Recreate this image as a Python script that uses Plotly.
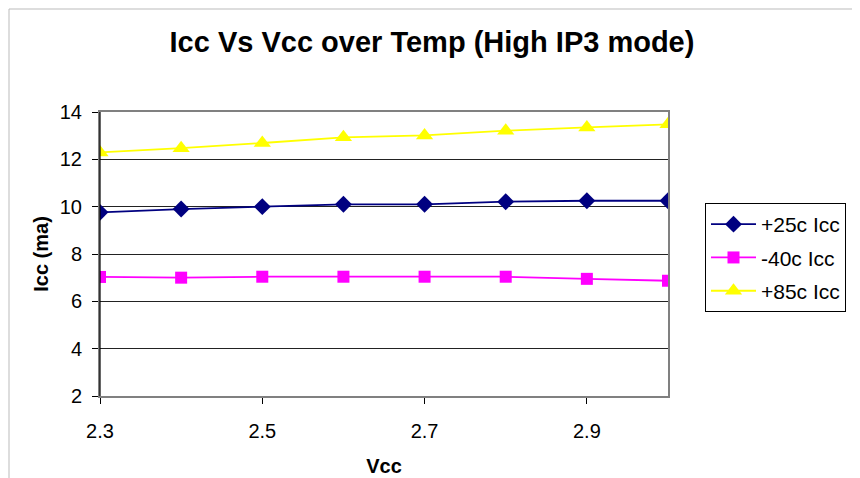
import plotly.graph_objects as go

vcc = [2.3, 2.4, 2.5, 2.6, 2.7, 2.8, 2.9, 3.0]
icc_25c = [9.76, 9.9, 10.0, 10.1, 10.1, 10.21, 10.25, 10.25]
icc_m40c = [7.03, 7.0, 7.04, 7.04, 7.04, 7.04, 6.95, 6.87]
icc_85c = [12.29, 12.47, 12.69, 12.93, 13.01, 13.21, 13.35, 13.48]

series_names = ["+25c Icc", "-40c Icc", "+85c Icc"]
x_ticks = [2.3, 2.5, 2.7, 2.9]
y_ticks = [2, 4, 6, 8, 10, 12, 14]

FONT = "Liberation Sans, Arial, sans-serif"
W, H = 860, 478
OFF = 8  # page body margin offset
L, T = 100 - OFF, 112 - OFF
R, B = W - (668 - OFF), H - (396 - OFF)
PW, PH = W - L - R, H - T - B

fig = go.Figure()
fig.add_trace(go.Scatter(x=vcc, y=icc_25c, name=series_names[0], mode="lines+markers",
                         line=dict(color="#000080", width=1.8),
                         marker=dict(symbol="diamond", size=13, color="#000080"),
                         legendgroup="a"))
fig.add_trace(go.Scatter(x=vcc, y=icc_m40c, name=series_names[1], mode="lines+markers",
                         line=dict(color="#FF00FF", width=1.8),
                         marker=dict(symbol="square", size=12, color="#FF00FF"),
                         legendgroup="b"))
fig.add_trace(go.Scatter(x=vcc, y=icc_85c, name=series_names[2], mode="lines+markers",
                         line=dict(color="#FFFF00", width=1.8),
                         marker=dict(symbol="triangle-up", size=15, color="#FFFF00"),
                         legendgroup="c"))

fig.update_layout(
    width=W, height=H,
    margin=dict(l=L, r=R, t=T, b=B, autoexpand=False),
    paper_bgcolor="white", plot_bgcolor="white",
    font=dict(family=FONT, size=20, color="black"),
    title=dict(text="<b>Icc Vs Vcc over Temp (High IP3 mode)</b>",
               x=(432 - OFF) / W, xanchor="center", xref="container",
               y=1 - (42 - OFF) / H, yanchor="middle",
               font=dict(family=FONT, size=29, color="black")),
    showlegend=True,
    legend=dict(x=(705 - OFF - L) / PW, xanchor="left", y=(H - B - (203 - OFF)) / PH, yanchor="top",
                bordercolor="black", borderwidth=1, bgcolor="white",
                font=dict(family=FONT, size=21), tracegroupgap=3,
                itemwidth=45),
    xaxis=dict(range=[2.3, 3.0], tickvals=x_ticks, ticktext=[str(v) for v in x_ticks],
               showgrid=False, zeroline=False, automargin=False,
               showline=True, linecolor="#808080", linewidth=2, mirror=True,
               ticks="outside", ticklen=6, tickcolor="black",
               ticklabelstandoff=10,
               tickfont=dict(family=FONT, size=20),
               title=dict(text="<b>Vcc</b>", font=dict(family=FONT, size=20), standoff=18)),
    yaxis=dict(range=[2, 14], tickvals=y_ticks,
               showgrid=True, gridcolor="#222222", gridwidth=1, zeroline=False,
               automargin=False,
               showline=True, linecolor="#808080", linewidth=2, mirror=True,
               ticks="outside", ticklen=6, tickcolor="black",
               ticklabelstandoff=6,
               tickfont=dict(family=FONT, size=20),
               title=dict(text="<b>Icc (ma)</b>", font=dict(family=FONT, size=20), standoff=6)),
    shapes=[
        dict(type="line", xref="paper", yref="paper", x0=0, x1=0, y0=0, y1=1,
             line=dict(color="black", width=1.2)),
        dict(type="line", xref="paper", yref="paper",
             x0=(9 - OFF - L) / PW, x1=(9 - OFF - L) / PW, y0=-B / PH, y1=(H - (9 - OFF) - B) / PH,
             line=dict(color="#BBBBBB", width=1)),
        dict(type="line", xref="paper", yref="paper",
             x0=(9 - OFF - L) / PW, x1=(W - L) / PW, y0=(H - (9 - OFF) - B) / PH, y1=(H - (9 - OFF) - B) / PH,
             line=dict(color="#BBBBBB", width=1)),
    ],
)

fig.write_html("out.html")
